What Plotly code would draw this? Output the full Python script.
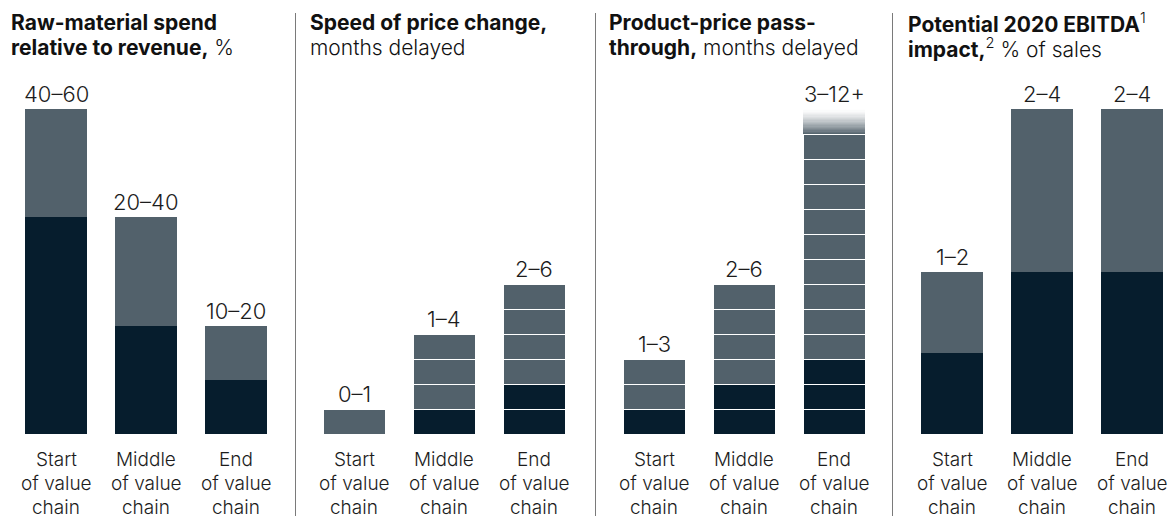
import plotly.graph_objects as go

# The page places the figure 8px in from the top-left corner (body margin),
# so the figure is sized to the visible window and coordinates are offset.
OFF = 8
W, H = 1176 - OFF, 516 - OFF

categories = ["Start<br>of value<br>chain", "Middle<br>of value<br>chain", "End<br>of value<br>chain"]

# Panel 1: raw-material spend relative to revenue, %
raw_dark = [40, 20, 10]
raw_gray = [20, 20, 10]
raw_labels = ["40–60", "20–40", "10–20"]

# Panel 2: speed of price change, months delayed
speed_dark = [0, 1, 2]
speed_gray = [1, 3, 4]
speed_labels = ["0–1", "1–4", "2–6"]

# Panel 3: product-price pass-through, months delayed
pass_dark = [1, 2, 3]
pass_gray = [2, 4, 9]
pass_fade = [0, 0, 1]
pass_labels = ["1–3", "2–6", "3–12+"]

# Panel 4: potential 2020 EBITDA impact, % of sales
ebitda_dark = [1, 2, 2]
ebitda_gray = [1, 2, 2]
ebitda_labels = ["1–2", "2–4", "2–4"]

title_lines = [
    ["<b>Raw-material spend</b>", "<b>relative to revenue,</b> %"],
    ["<b>Speed of price change,</b>", "months delayed"],
    ["<b>Product-price pass-</b>", "<b>through,</b> months delayed"],
    ["<b>Potential 2020 EBITDA</b><sup>1</sup>", "<b>impact,</b><sup>2</sup> % of sales"],
]

DARK = "#061d2d"
GRAY = "#52616b"
TEXT = "#1c1c1c"
FONT = "Inter"

# layout geometry (window pixels, converted with OFF)
BASE_PX = 434
TOP_PX = 109
panel_left_px = [11, 309, 609, 907]
panel_w_px = 270
title_x_px = [9, 308, 607, 906]
title_line_y_px = [23, 48]
tick_line_y_px = [459, 483, 507]
sep_x_px = [295.5, 595.5, 892.5]
y_ranges = [60, 13, 13, 4]


def px_x(p):
    return (p - OFF) / W


def px_y(p):
    return 1 - (p - OFF) / H


fig = go.Figure()


def add_stack(idx, dark, gray, segmented, fade=None):
    xa = "x" if idx == 0 else f"x{idx + 1}"
    ya = "y" if idx == 0 else f"y{idx + 1}"
    if segmented:
        line = dict(color="white", width=1)
        for k in range(max(dark)):
            fig.add_trace(go.Bar(x=categories, y=[1 if k < d else None for d in dark],
                                 marker=dict(color=DARK, line=line), xaxis=xa, yaxis=ya,
                                 showlegend=False, hoverinfo="skip"))
        for k in range(max(gray)):
            fig.add_trace(go.Bar(x=categories, y=[1 if k < g else None for g in gray],
                                 marker=dict(color=GRAY, line=line), xaxis=xa, yaxis=ya,
                                 showlegend=False, hoverinfo="skip"))
        if fade is not None and max(fade) > 0:
            n = 20
            for j in range(n):
                t = (j + 0.5) / n
                alpha = max(0.0, (1 - t)) ** 1.4
                fig.add_trace(go.Bar(x=categories, y=[f / n if f else None for f in fade],
                                     marker=dict(color=f"rgba(82,97,107,{alpha:.3f})", line=dict(width=0)),
                                     xaxis=xa, yaxis=ya, showlegend=False, hoverinfo="skip"))
    else:
        fig.add_trace(go.Bar(x=categories, y=dark, marker=dict(color=DARK, line=dict(width=0)),
                             xaxis=xa, yaxis=ya, showlegend=False, hoverinfo="skip"))
        fig.add_trace(go.Bar(x=categories, y=gray, marker=dict(color=GRAY, line=dict(width=0)),
                             xaxis=xa, yaxis=ya, showlegend=False, hoverinfo="skip"))


add_stack(0, raw_dark, raw_gray, False)
add_stack(1, speed_dark, speed_gray, True)
add_stack(2, pass_dark, pass_gray, True, pass_fade)
add_stack(3, ebitda_dark, ebitda_gray, False)

panels = [
    (raw_dark, raw_gray, [0, 0, 0], raw_labels),
    (speed_dark, speed_gray, [0, 0, 0], speed_labels),
    (pass_dark, pass_gray, pass_fade, pass_labels),
    (ebitda_dark, ebitda_gray, [0, 0, 0], ebitda_labels),
]

value_font = dict(family=FONT, size=22, color=TEXT, weight=300)
tick_font = dict(family=FONT, size=19, color=TEXT, weight=300)
title_font = dict(family=FONT, size=21, color="#111111", weight=300)
annotations = []
for i, (d, g, f, labs) in enumerate(panels):
    xa = "x" if i == 0 else f"x{i + 1}"
    ya = "y" if i == 0 else f"y{i + 1}"
    for c, dv, gv, fv, lab in zip(categories, d, g, f, labs):
        annotations.append(dict(x=c, y=dv + gv + fv, xref=xa, yref=ya, text=lab,
                                showarrow=False, yanchor="middle", yshift=15, font=value_font))
        for ln, ly in zip(c.split("<br>"), tick_line_y_px):
            annotations.append(dict(x=c, y=px_y(ly), xref=xa, yref="paper", text=ln,
                                    showarrow=False, yanchor="middle", font=tick_font))
    for ln, ly in zip(title_lines[i], title_line_y_px):
        annotations.append(dict(x=px_x(title_x_px[i]), y=px_y(ly), xref="paper", yref="paper",
                                xanchor="left", yanchor="middle", align="left", text=ln,
                                showarrow=False, font=title_font))

shapes = [dict(type="line", xref="paper", yref="paper", x0=px_x(sx), x1=px_x(sx),
               y0=0, y1=px_y(13), line=dict(color="#7a7a7a", width=1)) for sx in sep_x_px]

ydom = [px_y(BASE_PX), px_y(TOP_PX)]
layout = dict(
    width=W, height=H, margin=dict(l=0, r=0, t=0, b=0, autoexpand=False),
    paper_bgcolor="white", plot_bgcolor="white",
    barmode="stack", bargap=1 - 62 / 90,
    annotations=annotations, shapes=shapes, showlegend=False,
)
for i in range(4):
    xk = "xaxis" if i == 0 else f"xaxis{i + 1}"
    yk = "yaxis" if i == 0 else f"yaxis{i + 1}"
    ya_ref = "y" if i == 0 else f"y{i + 1}"
    x0 = px_x(panel_left_px[i])
    x1 = px_x(panel_left_px[i] + panel_w_px)
    rng = [-0.5, 2.5]
    if x1 > 1.0:
        # clip the domain to the figure edge and shrink the range accordingly
        frac = (1.0 - x0) / (x1 - x0)
        rng = [-0.5, -0.5 + 3 * frac]
        x1 = 1.0
    layout[xk] = dict(domain=[x0, x1], anchor=ya_ref, type="category",
                      range=rng, showgrid=False, zeroline=False, showline=False,
                      ticks="", showticklabels=False, automargin=False, fixedrange=True)
    layout[yk] = dict(domain=ydom, anchor=("x" if i == 0 else f"x{i + 1}"),
                      range=[0, y_ranges[i]], showgrid=False, zeroline=False,
                      showline=False, showticklabels=False, automargin=False, fixedrange=True)

fig.update_layout(**layout)
fig.write_html("out.html")
